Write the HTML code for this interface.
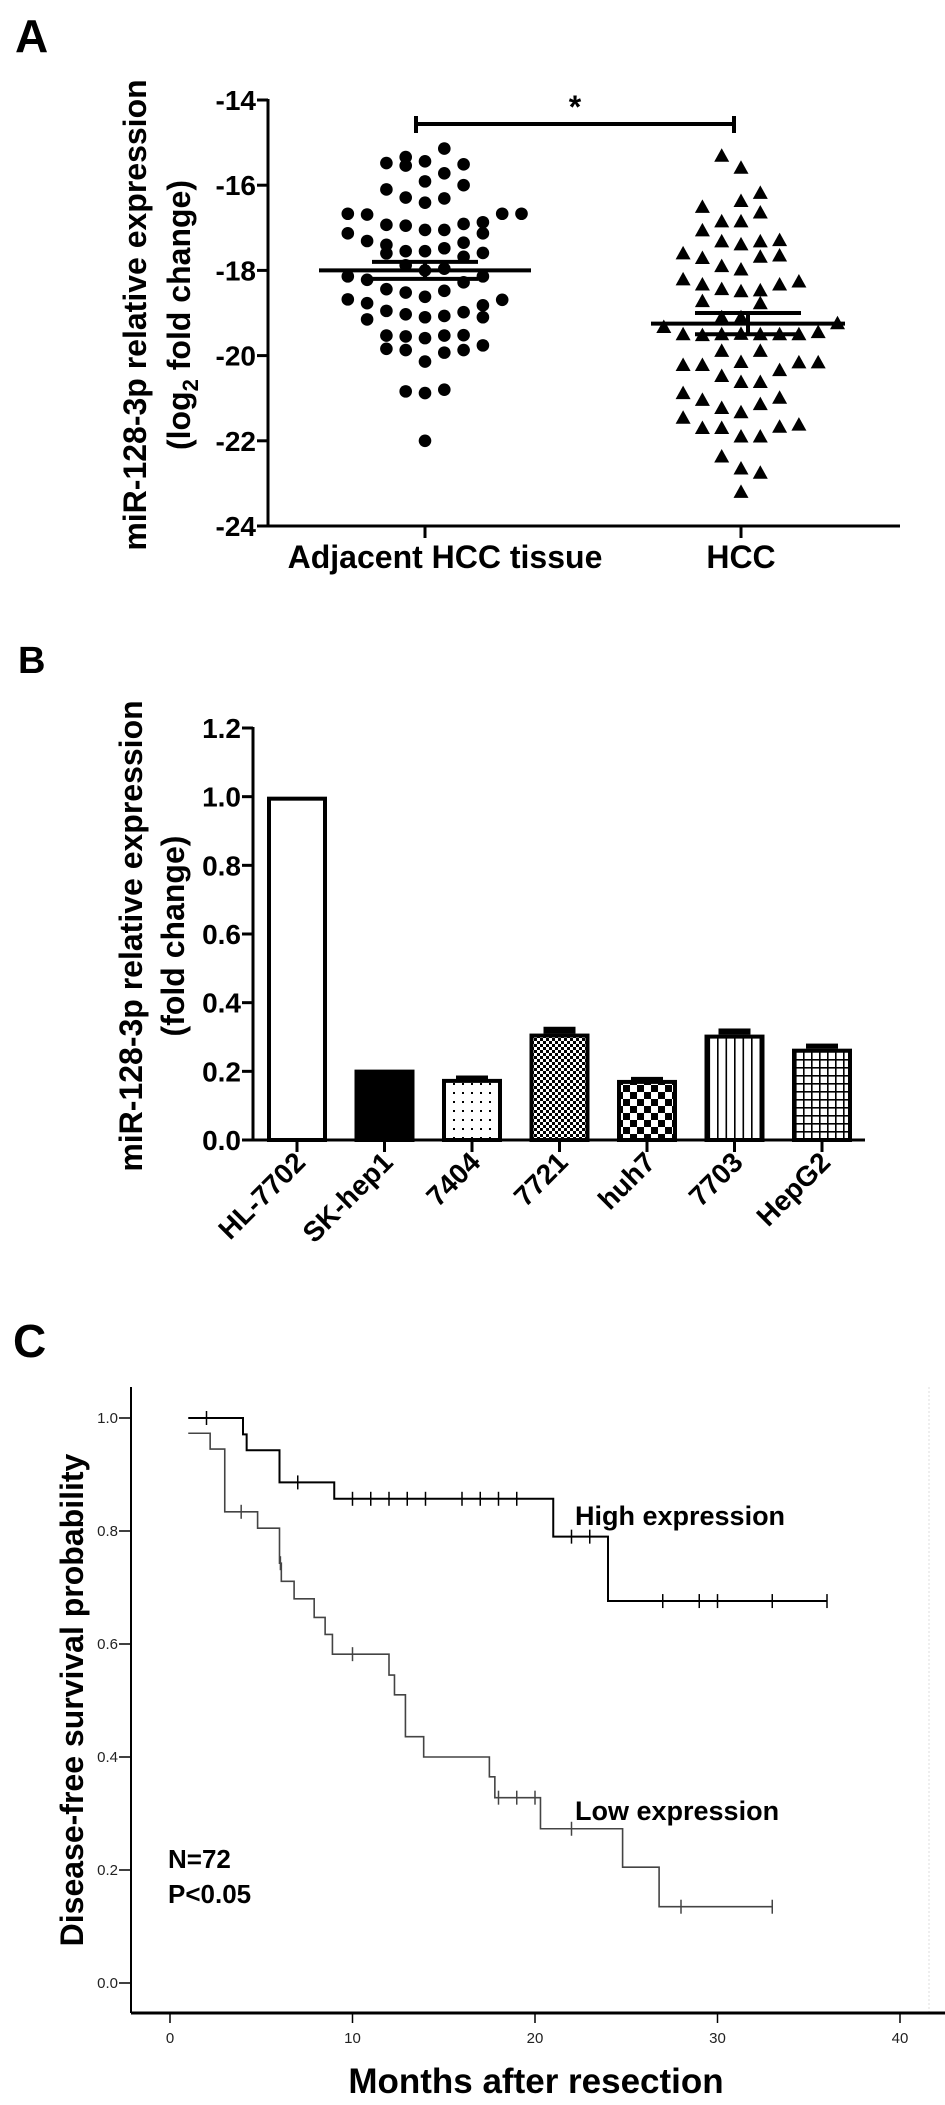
<!DOCTYPE html>
<html><head><meta charset="utf-8"><title>miR-128-3p figure</title>
<style>
html,body{margin:0;padding:0;background:#fff;}
svg{display:block;font-family:"Liberation Sans",Arial,sans-serif;}
.b{font-weight:bold;}
</style></head>
<body>
<svg id="fig" width="945" height="2105" viewBox="0 0 945 2105" xmlns="http://www.w3.org/2000/svg">
  <!-- Panel A static -->
  <text x="15" y="52" class="b" font-size="46">A</text>
  <g id="panelA"></g>
  <text transform="translate(146,315) rotate(-90)" text-anchor="middle" class="b" font-size="32">miR-128-3p relative expression</text>
  <text transform="translate(190,315) rotate(-90)" text-anchor="middle" class="b" font-size="32">(log<tspan font-size="22" dy="8">2</tspan><tspan dy="-8"> fold change)</tspan></text>

  <!-- Panel B static -->
  <text x="18" y="673" class="b" font-size="38">B</text>
  <g id="panelB"></g>
  <text transform="translate(142,936) rotate(-90)" text-anchor="middle" class="b" font-size="32">miR-128-3p relative expression</text>
  <text transform="translate(184,936) rotate(-90)" text-anchor="middle" class="b" font-size="32">(fold change)</text>

  <!-- Panel C static -->
  <text x="13" y="1357" class="b" font-size="46">C</text>
  <g id="panelC"></g>
  <text transform="translate(83,1700) rotate(-90)" text-anchor="middle" class="b" font-size="32">Disease-free survival probability</text>
  <text x="536" y="2093" text-anchor="middle" class="b" font-size="35">Months after resection</text>
  <text x="575" y="1525" class="b" font-size="27">High expression</text>
  <text x="575" y="1820" class="b" font-size="27">Low expression</text>
  <text x="168" y="1868" class="b" font-size="26">N=72</text>
  <text x="168" y="1903" class="b" font-size="26">P&lt;0.05</text>

  <defs>
    <pattern id="pDots" width="9" height="9" patternUnits="userSpaceOnUse"><rect width="9" height="9" fill="#fff"/><rect x="3" y="3" width="2" height="2" fill="#000"/></pattern>
    <pattern id="pFine" width="6" height="6" patternUnits="userSpaceOnUse"><rect width="6" height="6" fill="#fff"/><rect width="3" height="3" fill="#000"/><rect x="3" y="3" width="3" height="3" fill="#000"/></pattern>
    <pattern id="pCheck" width="14" height="14" patternUnits="userSpaceOnUse"><rect width="14" height="14" fill="#fff"/><rect width="7" height="7" fill="#000"/><rect x="7" y="7" width="7" height="7" fill="#000"/></pattern>
    <pattern id="pV" width="8.5" height="10" patternUnits="userSpaceOnUse"><rect width="8.5" height="10" fill="#fff"/><rect x="3" width="1.6" height="10" fill="#000"/></pattern>
    <pattern id="pGrid" width="8" height="8" patternUnits="userSpaceOnUse"><rect width="8" height="8" fill="#fff"/><rect x="3" width="1.6" height="8" fill="#000"/><rect y="3" width="8" height="1.6" fill="#000"/></pattern>
  </defs>
</svg>
<script>
// ===== Panel A data =====
const groupsA = ["Adjacent HCC tissue", "HCC"];
const adjValues = [-15.14,-15.48,-15.34,-15.54,-15.44,-15.51,-15.72,-15.91,-16.10,-16.0,-16.29,-16.41,-16.31,-16.67,-16.69,-16.67,-16.67,-16.93,-16.95,-17.05,-17.05,-16.91,-16.87,-17.13,-17.13,-17.31,-17.40,-17.60,-17.55,-17.55,-17.48,-17.35,-17.59,-17.68,-17.88,-18.0,-17.96,-18.14,-18.22,-18.44,-18.52,-18.62,-18.48,-18.28,-18.14,-18.68,-18.77,-18.69,-18.82,-18.95,-19.03,-19.10,-19.07,-18.98,-19.10,-19.15,-19.53,-19.55,-19.59,-19.53,-19.52,-19.84,-19.87,-19.93,-19.87,-19.76,-20.14,-20.84,-20.88,-20.80,-22.0];
const adjCols = [1,-2,-1,-1,0,2,1,0,-2,2,-1,0,1,-4,-3,4,5,-2,-1,0,1,2,3,3,-4,-3,-2,-2,-1,0,1,2,3,2,-1,0,1,-4,-3,-2,-1,0,1,2,3,-4,-3,4,3,-2,-1,0,1,2,3,-3,-2,-1,0,1,2,-2,-1,1,2,3,0,-1,0,1,0];
const hccValues = [-15.31,-15.59,-16.18,-16.37,-16.51,-16.64,-16.85,-16.85,-17.06,-17.32,-17.39,-17.32,-17.29,-17.60,-17.65,-17.71,-17.68,-17.90,-17.98,-18.21,-18.33,-18.33,-18.26,-18.44,-18.49,-18.47,-18.72,-18.77,-19.10,-19.10,-19.33,-19.24,-19.50,-19.52,-19.50,-19.49,-19.50,-19.50,-19.50,-19.45,-19.89,-19.89,-20.22,-20.22,-20.15,-20.34,-20.16,-20.16,-20.48,-20.62,-20.62,-20.88,-21.04,-20.99,-21.23,-21.33,-21.14,-21.46,-21.70,-21.70,-21.90,-21.90,-21.67,-21.62,-22.37,-22.65,-22.75,-23.20];
const hccCols = [-1,0,1,0,-2,1,-1,0,-2,-1,0,1,2,-3,2,-2,1,-1,0,-3,-2,2,3,-1,0,1,-2,1,-1,0,-4,5,-3,-2,-1,0,1,2,3,4,-1,1,-3,-2,0,2,3,4,-1,0,1,-3,-2,2,-1,0,1,-3,-2,-1,0,1,2,3,-1,0,1,0];
const meansA = [-18.0, -19.25];
const semsA = [0.2, 0.25];
const yTicksA = [-14,-16,-18,-20,-22,-24];

// ===== Panel B data =====
const cellLines = ["HL-7702","SK-hep1","7404","7721","huh7","7703","HepG2"];
const foldValues = [1.0,0.205,0.178,0.31,0.175,0.307,0.266];
const foldErrors = [0,0,0.004,0.014,0.003,0.012,0.009];
const yTicksB = ["0.0","0.2","0.4","0.6","0.8","1.0","1.2"];
const fillsB = ["#fff","#000","url(#pDots)","url(#pFine)","url(#pCheck)","url(#pV)","url(#pGrid)"];

// ===== Panel C data =====
const highStart = [1, 1.0];
const highEventTimes = [4,4.2,6,9,21,24];
const highEventSurv = [0.971,0.943,0.886,0.857,0.79,0.676];
const highEnd = 36;
const highCensor = [2,7,10,11,12,13,14,16,17,18,19,22,23,27,29,30,33,36];
const lowStart = [1, 0.973];
const lowEventTimes = [2.2,3,4.8,6,6.1,6.8,7.9,8.5,8.9,12,12.3,12.9,13.9,17.5,17.8,20.3,24.8,26.8];
const lowEventSurv = [0.945,0.834,0.805,0.743,0.711,0.68,0.647,0.617,0.582,0.545,0.51,0.436,0.40,0.365,0.328,0.273,0.205,0.135];
const lowEnd = 33;
const lowCensor = [3.9,6.05,10,18,19,20,22,28,33];
const yTicksC = ["0.0","0.2","0.4","0.6","0.8","1.0"];
const xTicksC = [0,10,20,30,40];

const NS = "http://www.w3.org/2000/svg";
function mk(parent, tag, attrs, txt){
  const e = document.createElementNS(NS, tag);
  for (const k in attrs) e.setAttribute(k, attrs[k]);
  if (txt !== undefined) e.textContent = txt;
  parent.appendChild(e);
  return e;
}

// ===== Panel A =====
(function(){
  const g = document.getElementById('panelA');
  const axX = 268, yTop = 100, yBot = 526;
  const yA = v => yTop + (-14 - v) * (yBot - yTop) / 10;
  const tickX = [425, 741];
  const colW = 19.3;
  let e;
  e = mk(g,'line',{x1:axX,y1:yTop-1,x2:axX,y2:yBot+1.5,stroke:'#000','stroke-width':3});
   
  e = mk(g,'line',{x1:axX-1.5,y1:yBot,x2:900,y2:yBot,stroke:'#000','stroke-width':3});
   
  yTicksA.forEach(t=>{
    const y = yA(t);
    let l = mk(g,'line',{x1:axX-11,y1:y,x2:axX,y2:y,stroke:'#000','stroke-width':3});
     
    let tx = mk(g,'text',{x:axX-12,y:y+10,'text-anchor':'end','font-size':28,'font-weight':'bold'}, String(t));
     
  });
  groupsA.forEach((name,i)=>{
    let l = mk(g,'line',{x1:tickX[i],y1:yBot,x2:tickX[i],y2:yBot+12,stroke:'#000','stroke-width':3});
     
    let tx = mk(g,'text',{x:tickX[i]+(i===0?20:0),y:yBot+42,'text-anchor':'middle','font-size':32,'font-weight':'bold'}, name);
     
  });
  adjValues.forEach((v,k)=>{
    const c = mk(g,'circle',{cx:tickX[0]+adjCols[k]*colW,cy:yA(v),r:6.3,fill:'#000'});
     
  });
  hccValues.forEach((v,k)=>{
    const x = tickX[1]+hccCols[k]*colW, y = yA(v);
    const p = mk(g,'polygon',{points:`${x},${y-7.5} ${x-7.5},${y+6} ${x+7.5},${y+6}`,fill:'#000'});
     
  });
  const meanHalf = [106, 97], semHalf = [53, 53];
  meansA.forEach((m,i)=>{
    const cx = tickX[i] + (i===0?0:7);
    let l = mk(g,'line',{x1:cx-meanHalf[i],y1:yA(m),x2:cx+meanHalf[i],y2:yA(m),stroke:'#000','stroke-width':4});
     
    [m+semsA[i], m-semsA[i]].forEach(s=>{
      let b = mk(g,'line',{x1:cx-semHalf[i],y1:yA(s),x2:cx+semHalf[i],y2:yA(s),stroke:'#000','stroke-width':4});
       
    });
    let v = mk(g,'line',{x1:cx,y1:yA(m+semsA[i]),x2:cx,y2:yA(m-semsA[i]),stroke:'#000','stroke-width':4});
     
  });
  let br = mk(g,'path',{d:`M416,116 V133 M416,124 H734 M734,116 V133`,stroke:'#000','stroke-width':4,fill:'none'});
   
  let st = mk(g,'text',{x:575,y:118,'text-anchor':'middle','font-size':32,'font-weight':'bold'},'*');
   
})();

// ===== Panel B =====
(function(){
  const g = document.getElementById('panelB');
  const axX = 253, y0 = 1140, y12 = 728;
  const yB = v => y0 - v * (y0 - y12) / 1.2;
  const cx = i => 297 + i * 87.5;
  const bw = 60;
  let e;
  cellLines.forEach((name,i)=>{
    const top = yB(foldValues[i]);
    if (foldErrors[i] > 0) {
      const et = yB(foldValues[i] + foldErrors[i]);
      let c = mk(g,'rect',{x:cx(i)-16,y:et-2,width:32,height:Math.max(4, top-et+2),fill:'#000'});
       
    }
    let r = mk(g,'rect',{x:cx(i)-bw/2+2,y:top+2,width:bw-4,height:y0-top-2,fill:fillsB[i],stroke:'#000','stroke-width':4});
     
    let t = mk(g,'line',{x1:cx(i),y1:y0,x2:cx(i),y2:y0+12,stroke:'#000','stroke-width':3});
     
    let tx = mk(g,'text',{transform:`translate(${cx(i)+10},${y0+24}) rotate(-45)`,'text-anchor':'end','font-size':28,'font-weight':'bold'}, name);
     
  });
  e = mk(g,'line',{x1:axX,y1:y12-1,x2:axX,y2:y0+1.5,stroke:'#000','stroke-width':3});
   
  e = mk(g,'line',{x1:axX-1.5,y1:y0,x2:865,y2:y0,stroke:'#000','stroke-width':3});
   
  yTicksB.forEach(t=>{
    const y = yB(parseFloat(t));
    let l = mk(g,'line',{x1:axX-11,y1:y,x2:axX,y2:y,stroke:'#000','stroke-width':3});
     
    let tx = mk(g,'text',{x:axX-12,y:y+10,'text-anchor':'end','font-size':28,'font-weight':'bold'}, t);
     
  });
})();

// ===== Panel C =====
(function(){
  const g = document.getElementById('panelC');
  const axX = 131, yTopAx = 1387, y1 = 1418, y0 = 1983, xAxY = 2013;
  const xC = m => 170 + m * 18.25;
  const yC = s => y0 - s * (y0 - y1);
  let e;
  e = mk(g,'line',{x1:929,y1:yTopAx,x2:929,y2:xAxY,stroke:'#ddd','stroke-width':1,'stroke-dasharray':'2,2'});
   
  e = mk(g,'line',{x1:axX,y1:yTopAx,x2:axX,y2:xAxY,stroke:'#000','stroke-width':2});
   
  e = mk(g,'line',{x1:axX,y1:xAxY,x2:945,y2:xAxY,stroke:'#000','stroke-width':3});
   
  yTicksC.forEach(t=>{
    const y = yC(parseFloat(t));
    let l = mk(g,'line',{x1:axX-12,y1:y,x2:axX,y2:y,stroke:'#000','stroke-width':1.5});
     
    let tx = mk(g,'text',{x:axX-13,y:y+5,'text-anchor':'end','font-size':15,fill:'#222'}, t);
     
  });
  xTicksC.forEach(t=>{
    const x = xC(t);
    let l = mk(g,'line',{x1:x,y1:xAxY,x2:x,y2:xAxY+10,stroke:'#000','stroke-width':1.5});
     
    let tx = mk(g,'text',{x:x,y:xAxY+30,'text-anchor':'middle','font-size':15,fill:'#222'}, String(t));
     
  });
  function survAt(start, times, surv, t){
    let s = start[1];
    for (let i=0;i<times.length;i++){ if (times[i] <= t) s = surv[i]; }
    return s;
  }
  function drawCurve(start, times, surv, end, censor, color, w, name){
    let d = `M${xC(start[0])},${yC(start[1])}`;
    times.forEach((t,i)=>{ d += ` H${xC(t)} V${yC(surv[i])}`; });
    d += ` H${xC(end)}`;
    let p = mk(g,'path',{d:d,fill:'none',stroke:color,'stroke-width':w});
     
    censor.forEach(t=>{
      const x = xC(t), y = yC(survAt(start,times,surv,t));
      let c = mk(g,'line',{x1:x,y1:y-7,x2:x,y2:y+7,stroke:color,'stroke-width':1.5});
       
    });
  }
  drawCurve(lowStart, lowEventTimes, lowEventSurv, lowEnd, lowCensor, '#444', 1.6, 'low-expression');
  drawCurve(highStart, highEventTimes, highEventSurv, highEnd, highCensor, '#000', 2, 'high-expression');
})();
</script>
</body></html>
